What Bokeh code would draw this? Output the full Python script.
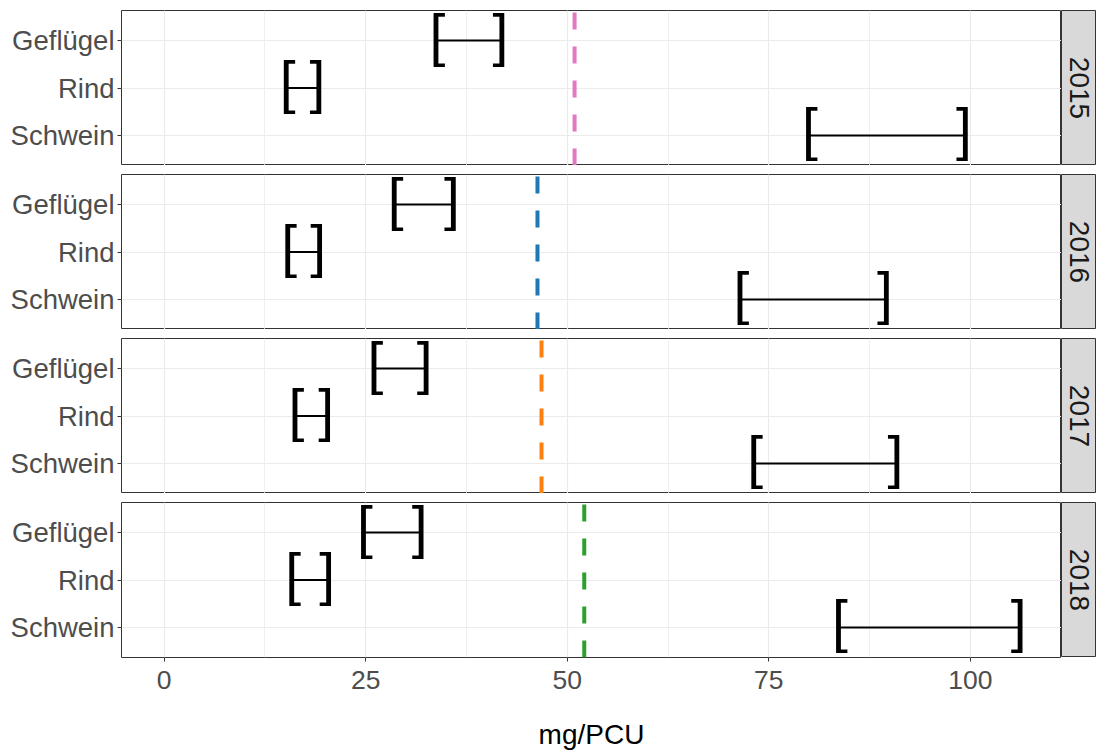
import math
from bokeh.plotting import figure
from bokeh.models import Range1d, FixedTicker, SingleIntervalTicker
from bokeh.layouts import column, row
from bokeh.embed import file_html
from bokeh.resources import INLINE
from bokeh.core.properties import value

# ---------------- data ----------------
years = ["2015", "2016", "2017", "2018"]
species = ["Geflügel", "Rind", "Schwein"]

lower_2015 = [33.9, 15.3, 80.1]
upper_2015 = [41.7, 19.0, 99.2]
lower_2016 = [28.7, 15.5, 71.6]
upper_2016 = [35.7, 19.1, 89.4]
lower_2017 = [26.2, 16.4, 73.3]
upper_2017 = [32.3, 20.1, 90.7]
lower_2018 = [24.9, 16.0, 83.8]
upper_2018 = [31.7, 20.2, 106.0]

lower = {"2015": lower_2015, "2016": lower_2016, "2017": lower_2017, "2018": lower_2018}
upper = {"2015": upper_2015, "2016": upper_2016, "2017": upper_2017, "2018": upper_2018}

overall = [50.9, 46.3, 46.8, 52.1]
line_colors = ["#E377C2", "#1F77B4", "#FF7F0E", "#2CA02C"]

x_label = "mg/PCU"

# ---------------- style ----------------
FONT = "Liberation Sans"
FRAME_W, FRAME_H = 940, 155
STRIP_W = 35
GRID_C = "#EBEBEB"
DARK = "#333333"

# categorical positions: first species at top
y_pos = [len(species) - k for k in range(len(species))]
y_pad = 0.635


def make_panel(i, year):
    bottom = i == len(years) - 1
    p = figure(
        frame_width=FRAME_W, frame_height=FRAME_H,
        x_range=Range1d(-5.3, 111.3),
        y_range=Range1d(min(y_pos) - y_pad, max(y_pos) + y_pad),
        output_backend="svg", toolbar_location=None,
        min_border_left=121, min_border_right=0,
        min_border_top=10 if i == 0 else 9, min_border_bottom=0,
        background_fill_color="white", border_fill_color="white",
        outline_line_color=DARK, outline_line_width=1,
    )
    ticker = SingleIntervalTicker(interval=25, num_minor_ticks=2)
    p.xaxis.ticker = ticker
    p.xgrid.ticker = ticker
    p.xgrid.grid_line_color = GRID_C
    p.xgrid.grid_line_width = 1.2
    p.xgrid.minor_grid_line_color = GRID_C
    p.xgrid.minor_grid_line_width = 0.8
    p.ygrid.grid_line_color = GRID_C
    p.ygrid.grid_line_width = 1.2

    yt = FixedTicker(ticks=y_pos, minor_ticks=[])
    p.yaxis.ticker = yt
    p.ygrid.ticker = yt
    p.yaxis.major_label_overrides = {y: s for y, s in zip(y_pos, species)}
    p.yaxis.axis_line_color = None
    p.yaxis.major_tick_line_color = DARK
    p.yaxis.major_tick_out = 4
    p.yaxis.major_tick_in = 0
    p.yaxis.minor_tick_line_color = None
    p.yaxis.major_label_standoff = 3
    p.yaxis.major_label_text_font = FONT
    p.yaxis.major_label_text_font_size = "27.5px"
    p.yaxis.major_label_text_color = "#4D4D4D"

    if bottom:
        p.xaxis.axis_line_color = None
        p.xaxis.major_tick_line_color = DARK
        p.xaxis.major_tick_out = 4
        p.xaxis.major_tick_in = 0
        p.xaxis.minor_tick_line_color = None
        p.xaxis.major_label_standoff = 9
        p.xaxis.major_label_text_font = FONT
        p.xaxis.major_label_text_font_size = "26.5px"
        p.xaxis.major_label_text_color = "#4D4D4D"
        p.xaxis.axis_label = x_label
        p.xaxis.axis_label_text_font = FONT
        p.xaxis.axis_label_text_font_size = "28px"
        p.xaxis.axis_label_text_font_style = "normal"
        p.xaxis.axis_label_text_color = "black"
        p.xaxis.axis_label_standoff = 27
    else:
        p.xaxis.visible = False

    lo = lower[year]
    hi = upper[year]

    # overall reference line (drawn bottom to top)
    p.segment(x0=[overall[i]], y0=[p.y_range.start], x1=[overall[i]], y1=[p.y_range.end],
              line_color=line_colors[i], line_width=4, line_dash="17 17")

    p.segment(x0=lo, y0=y_pos, x1=hi, y1=y_pos, line_color="black", line_width=2)
    p.text(x=lo, y=y_pos, text=["["] * len(lo), text_align="center", text_baseline="middle",
           y_offset=-6, text_font=value(FONT), text_font_size="57px", text_color="black")
    p.text(x=hi, y=y_pos, text=["]"] * len(hi), text_align="center", text_baseline="middle",
           y_offset=-6, text_font=value(FONT), text_font_size="57px", text_color="black")
    return p


def make_strip(i, year):
    s = figure(
        frame_width=STRIP_W, frame_height=FRAME_H,
        x_range=Range1d(0, 1), y_range=Range1d(0, 1),
        x_axis_location=None, y_axis_location=None,
        output_backend="svg", toolbar_location=None,
        min_border_left=0, min_border_right=0,
        min_border_top=10 if i == 0 else 9, min_border_bottom=0,
        background_fill_color="#D9D9D9", border_fill_color="white",
        outline_line_color=DARK, outline_line_width=1,
    )
    s.grid.visible = False
    s.text(x=[0.5], y=[0.5], text=[year], angle=-math.pi / 2,
           text_align="center", text_baseline="middle",
           text_font=value(FONT), text_font_size="28px", text_color="#1A1A1A")
    return s


rows = [row(make_panel(i, y), make_strip(i, y), spacing=0) for i, y in enumerate(years)]
layout = column(*rows, spacing=0)

open("out.html", "w").write(file_html(layout, INLINE))
